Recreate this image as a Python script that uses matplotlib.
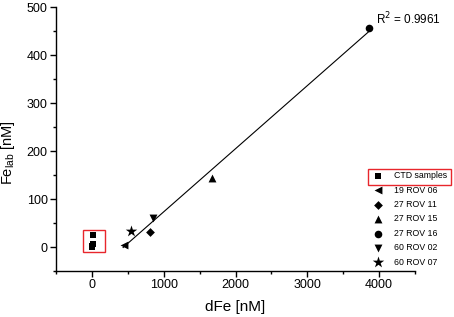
import numpy as np
import matplotlib
matplotlib.use("Agg")
import matplotlib.pyplot as plt
from matplotlib.patches import Rectangle
from matplotlib.ticker import MultipleLocator

plt.rcParams['font.family'] = ['Liberation Sans', 'DejaVu Sans']

# Data
ctd_x = [22, 5, 15, 8]
ctd_y = [25, 3, 6, 1]
series_names = ["19 ROV 06", "27 ROV 11", "27 ROV 15", "27 ROV 16", "60 ROV 02", "60 ROV 07"]
series_x = [450, 815, 1675, 3855, 857, 542]
series_y = [4, 32, 143, 456, 60, 33]
series_markers = ['<', 'D', '^', 'o', 'v', '*']
r2_text = "R$^2$ = 0.9961"

fig = plt.figure(figsize=(4.54, 3.17), dpi=100)
ax = fig.add_axes([56/454, 1-271/317, (415-56)/454, (271-7)/317])

ax.scatter(ctd_x, ctd_y, marker='s', s=22, color='black', label="CTD samples", zorder=3, linewidths=0)
sizes = {'<': 32, 'D': 20, '^': 32, 'o': 30, 'v': 32, '*': 75}
for name, x, y, m in zip(series_names, series_x, series_y, series_markers):
    ax.scatter([x], [y], marker=m, s=sizes[m], color='black', label=name, zorder=3, linewidths=0)

# linear fit over ROV samples
k, b = np.polyfit(series_x, series_y, 1)
xs = np.array([min(series_x) - 15, max(series_x)])
ax.plot(xs, k * xs + b, color='black', lw=0.8, zorder=2)

ax.set_xlim(-500, 4500)
ax.set_ylim(-50, 500)
ax.xaxis.set_major_locator(MultipleLocator(1000))
ax.xaxis.set_minor_locator(MultipleLocator(500))
ax.yaxis.set_major_locator(MultipleLocator(100))
ax.yaxis.set_minor_locator(MultipleLocator(50))
for s in ['top', 'right']:
    ax.spines[s].set_visible(False)
for s in ['left', 'bottom']:
    ax.spines[s].set_linewidth(1.0)
ax.tick_params(which='major', direction='out', length=4, width=1, labelsize=9, pad=2)
ax.tick_params(which='minor', direction='out', length=2.5, width=1)
ax.set_xlabel("dFe [nM]", fontsize=11, labelpad=6)
ax.set_ylabel("Fe$_{\\mathregular{lab}}$ [nM]", fontsize=10.5)
ax.yaxis.set_label_coords(-0.108, 0.45)

ax.text(3960, 475, r2_text, fontsize=8.5, ha='left', va='center')

# red box around CTD samples in the plot
ax.add_patch(Rectangle((-128, -11), 313, 46, fill=False, edgecolor='#e8262c', lw=1.0, zorder=4))

leg = ax.legend(loc='upper left', bbox_to_anchor=(366/454, 1-165/317), bbox_transform=fig.transFigure,
                frameon=False, fontsize=6.3, handletextpad=1.2, handlelength=1.3,
                labelspacing=0.62, borderpad=0.2, scatterpoints=1)

# red box around legend entry
fig.patches.append(Rectangle((368/454, 1-185/317), 83/454, 16/317, fill=False,
                             edgecolor='#e8262c', lw=1.0, transform=fig.transFigure, figure=fig))

fig.savefig("out.png", dpi=100)
